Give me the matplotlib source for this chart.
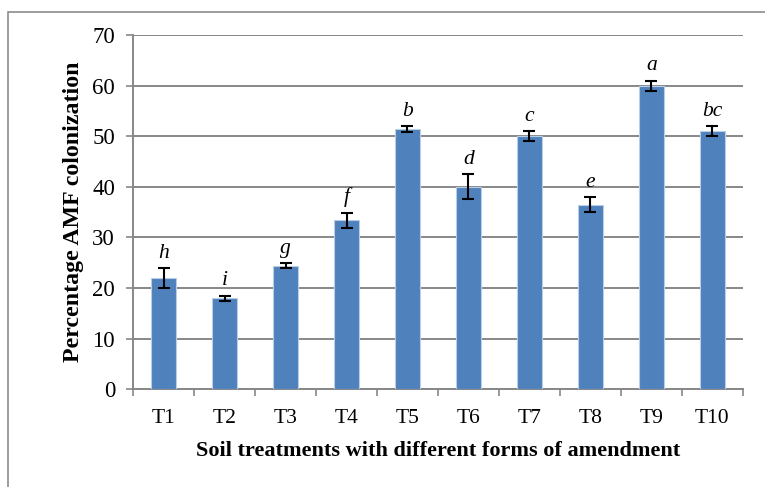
import matplotlib
matplotlib.use("Agg")
import matplotlib.pyplot as plt
from matplotlib.patches import Rectangle
import numpy as np

# AMF colonization per soil treatment (mean, error, significance letter)
treatments = ["T1", "T2", "T3", "T4", "T5", "T6", "T7", "T8", "T9", "T10"]
colonization = [22.0, 18.0, 24.4, 33.4, 51.4, 40.0, 50.1, 36.5, 60.0, 51.0]
errors = [2.0, 0.5, 0.5, 1.5, 0.6, 2.5, 1.0, 1.5, 1.0, 1.0]
letters = ["h", "i", "g", "f", "b", "d", "c", "e", "a", "bc"]

plt.rcParams["font.family"] = ["Liberation Serif", "DejaVu Serif"]
GRID = "#878787"
BAR = "#4F81BD"

fig = plt.figure(figsize=(7.65, 4.87), dpi=100)
ax = fig.add_axes([0.174, 0.201, 0.797, 0.727])

x = np.arange(len(treatments))
ax.bar(x, colonization, width=0.41, color=BAR, edgecolor="#B9CDE5", linewidth=0.8, zorder=3)
ax.errorbar(x, colonization, yerr=errors, fmt="none", ecolor="black", elinewidth=1.5,
            capsize=4.2, capthick=1.5, zorder=4)
for xi, v, e, lab in zip(x, colonization, errors, letters):
    ax.text(xi, v + e + 2.0, lab, ha="center", va="baseline", fontsize=15.5, style="italic")

ax.set_xlim(-0.5, len(treatments) - 0.5)
ax.set_ylim(0, 70)
ax.set_yticks(range(0, 71, 10))
ax.yaxis.grid(True, color=GRID, linewidth=1.4, zorder=0)
ax.set_xticks(x)
ax.set_xticklabels(treatments, fontsize=15.5)
ax.set_xticks(np.arange(-0.5, len(treatments)), minor=True)
ax.tick_params(axis="x", which="major", length=0, pad=14)
ax.tick_params(axis="x", which="minor", length=5, width=1.2, color=GRID)
ax.tick_params(axis="y", labelsize=16.5, length=5, width=1.2, color=GRID, pad=8)

for side in ("top", "right"):
    ax.spines[side].set_visible(False)
for side in ("left", "bottom"):
    ax.spines[side].set_color(GRID)
    ax.spines[side].set_linewidth(1.4)

ax.set_xlabel("Soil treatments with different forms of amendment", fontsize=16,
              fontweight="bold", labelpad=10)
ax.set_ylabel("Percentage AMF colonization", fontsize=17.2, fontweight="bold", labelpad=6)

# chart-area frame, clipped at the right and bottom edges
fig.patches.append(Rectangle((0.010, -0.1), 1.2, 0.1 + 1 - 0.025, transform=fig.transFigure,
                             fill=False, edgecolor="#8C8C8C", linewidth=1.2))

fig.savefig("out.png", dpi=100)
